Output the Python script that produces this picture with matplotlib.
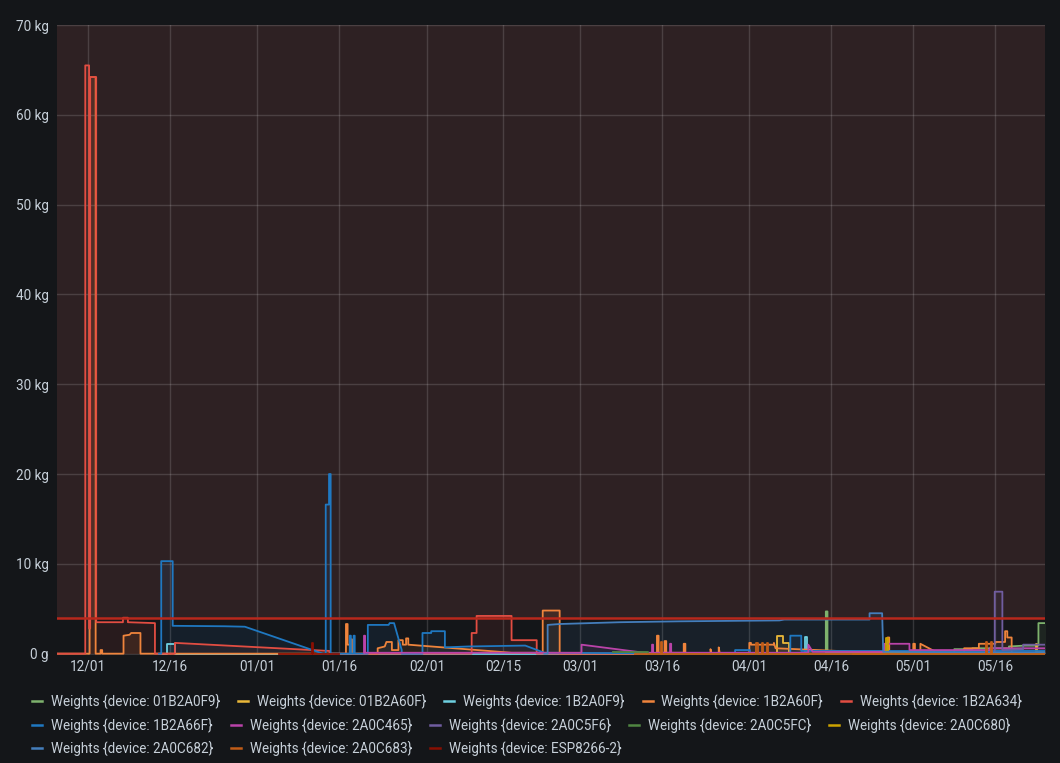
import numpy as np
import pandas as pd
import matplotlib
matplotlib.use("Agg")
import matplotlib.pyplot as plt
import matplotlib.dates as mdates
from matplotlib.lines import Line2D

plt.rcParams['font.family'] = ['Roboto', 'DejaVu Sans']

# ---------------- data (time = days since 2020-12-01, weight in kg) ----------------
start = pd.Timestamp("2020-12-01")

devices = ["01B2A0F9", "01B2A60F", "1B2A0F9", "1B2A60F", "1B2A634", "1B2A66F",
           "2A0C465", "2A0C5F6", "2A0C5FC", "2A0C680", "2A0C682", "2A0C683", "ESP8266-2"]
colors = ["#7EB26D", "#EAB839", "#6ED0E0", "#EF843C", "#E24D42", "#1F78C1",
          "#BA43A9", "#705DA0", "#508642", "#CCA300", "#447EBC", "#C15C17", "#890F02"]

t_01B2A0F9 = [120, 135.0, 135.0, 135.3, 135.3, 150, 158.5, 158.5, 161.8, 161.8, 168.5, 168.5, 171.5, 173.9, 173.9, 176]
w_01B2A0F9 = [0, 0, 4.7, 4.7, 0.1, 0.1, 0.1, 0.5, 0.5, 0.6, 0.6, 0.8, 0.9, 0.9, 3.4, 3.4]

t_01B2A60F = [118, 126.0, 126.0, 127.2, 127.2, 128.2, 128.2, 173.4, 173.4, 173.7, 173.7, 176]
w_01B2A60F = [0, 0, 2.0, 2.0, 1.2, 1.2, 0, 0, 1.1, 1.1, 0.2, 0.2]

t_1B2A0F9 = [13.0, 14.4, 14.4, 15.9, 15.9, 131.2, 131.2, 131.6, 131.6, 176]
w_1B2A0F9 = [0, 0, 1.1, 1.1, 0, 0, 1.8, 1.8, 0, 0]

t_1B2A60F = [-5.7, 0.3, 0.3, 1.4, 1.4, 2.3, 2.3, 2.6, 2.6, 6.5, 6.5, 7.6, 7.9, 9.6, 9.6,
             47.2, 47.2, 47.5, 47.5, 48.0, 48.0, 48.3, 48.3,
             53.0, 53.0, 54.3, 54.6, 55.6, 55.6, 56.8, 56.8, 57.6, 57.6, 58.2, 58.2, 58.6, 58.6, 77.5,
             83.2, 83.2, 86.3, 86.3,
             104.1, 104.1, 104.4, 104.4, 105.5, 105.5, 105.8, 105.8, 109.0, 109.0, 109.3, 109.3,
             113.9, 113.9, 114.1, 115.4, 115.4, 115.6,
             121.0, 121.0, 121.3, 121.3, 125.5, 125.5, 125.8, 144.8,
             146.3, 146.3, 146.6, 146.6, 151.0, 151.0, 151.3, 151.3, 152.3, 152.3, 154.8, 154.8,
             160.3, 160.3, 163.0, 163.0, 166.0, 166.0, 167.8, 167.8, 168.2, 168.2, 169.0, 169.0, 176]
w_1B2A60F = [0, 0, 64.2, 64.2, 0, 0, 0.4, 0.4, 0, 0, 2.0, 2.1, 2.3, 2.3, 0,
             0, 3.3, 3.3, 1.0, 1.0, 1.6, 1.6, 0,
             0, 0.6, 0.8, 1.3, 1.3, 0.4, 0.4, 1.5, 1.5, 1.0, 1.0, 1.7, 1.7, 1.0, 0.1,
             0.1, 4.8, 4.8, 0,
             0, 2.0, 2.0, 0.1, 0.1, 1.4, 1.4, 0.1, 0.1, 1.1, 1.1, 0,
             0, 0.5, 0, 0, 0.7, 0,
             0, 1.2, 1.2, 1.0, 1.0, 1.2, 0.6, 0.1,
             0.1, 1.8, 1.8, 0.1, 0.1, 1.1, 1.1, 0.3, 0.3, 1.1, 0.3, 0.1,
             0.1, 0.6, 0.6, 1.1, 1.1, 1.3, 1.3, 2.5, 2.5, 1.8, 1.8, 0.1, 0.1]

t_1B2A634 = [-5.7, -0.5, -0.5, 0.2, 0.2, 0.4, 0.4, 1.5, 1.5, 6.4, 6.4, 7.3, 7.3, 12.25, 12.25,
             15.9, 15.9, 44.2, 44.2, 70.2, 70.2, 71.1, 71.1, 77.5, 77.5, 82.1, 82.1, 176]
w_1B2A634 = [0, 0, 65.5, 65.5, 2.8, 2.8, 64.2, 64.2, 3.5, 3.5, 4.0, 4.0, 3.5, 3.4, 0,
             0, 1.2, 0.3, 0, 0, 2.3, 2.3, 4.2, 4.2, 1.5, 1.5, 0, 0]

t_1B2A66F = [13.0, 13.4, 13.4, 15.5, 15.5, 25.0, 28.7, 43.0, 43.5, 43.5, 44.1, 44.1, 44.4, 44.4,
             47.9, 47.9, 48.1, 48.1, 48.6, 48.6, 48.8, 48.8,
             51.2, 51.2, 55.0, 55.2, 56.0, 57.4, 57.4, 61.2, 61.2, 62.8, 62.8, 65.3, 65.3,
             69.6, 80.0, 83.5, 118.4, 118.4, 121.1, 121.1,
             128.5, 128.5, 130.5, 130.5, 176]
w_1B2A66F = [0, 0, 10.3, 10.3, 3.1, 3.05, 3.0, 0.0, 0, 16.6, 16.6, 20.0, 20.0, 0,
             0, 2.0, 2.0, 0, 0, 2.0, 2.0, 0,
             0, 3.2, 3.2, 3.4, 3.4, 0.4, 0, 0, 2.3, 2.3, 2.5, 2.5, 0.7,
             0.8, 0.9, 0.1, 0, 0.4, 0.4, 0,
             0, 2.0, 2.0, 0.3, 0.3]

t_2A0C465 = [50.5, 50.5, 50.7, 50.7, 90.3, 90.3, 101.8, 103.2, 103.2, 103.4, 103.4,
             106.5, 106.5, 106.7, 106.7, 131.8, 131.8, 132.6, 145.7, 145.7, 150.3, 150.3,
             165.0, 165.0, 176]
w_2A0C465 = [0.1, 2.0, 2.0, 0.1, 0.1, 1.0, 0.1, 0.1, 1.0, 1.0, 0.1,
             0.1, 1.1, 1.1, 0.1, 0.1, 1.0, 0.2, 0.2, 1.1, 1.1, 0.4,
             0.4, 0.6, 0.6]

t_2A0C5F6 = [160, 165.9, 165.9, 167.3, 167.3, 171.1, 171.1, 176]
w_2A0C5F6 = [0, 0, 6.9, 6.9, 0.4, 0.5, 1.0, 1.0]

t_2A0C5FC = [96.0, 102.5, 102.5, 176]
w_2A0C5FC = [0.15, 0.15, 0.0, 0.0]

t_2A0C680 = [140, 146.0, 146.0, 146.3, 146.3, 176]
w_2A0C680 = [0, 0, 1.7, 1.7, 0.1, 0.1]

t_2A0C682 = [83.5, 84.1, 84.1, 86.3, 91.8, 97.3, 108.2, 126.5, 127.4, 143.0, 143.0, 145.3, 145.5, 176]
w_2A0C682 = [0, 0, 3.2, 3.3, 3.4, 3.5, 3.6, 3.7, 3.8, 3.8, 4.5, 4.5, 0.2, 0.1]

t_2A0C683 = [100, 104.8, 104.8, 105.0, 105.0, 122.3, 122.3, 122.5, 122.5, 123.3, 123.3, 123.5, 123.5,
             124.2, 124.2, 124.4, 124.4, 164.3, 164.3, 164.5, 164.5, 165.2, 165.2, 165.4, 165.4, 176]
w_2A0C683 = [0, 0, 1.3, 1.3, 0, 0, 1.2, 1.2, 0, 0, 1.2, 1.2, 0,
             0, 1.2, 1.2, 0, 0, 1.3, 1.3, 0, 0, 1.3, 1.3, 0, 0]

t_ESP8266_2 = [35, 41.0, 41.0, 41.2, 41.2, 46]
w_ESP8266_2 = [0, 0, 1.2, 1.2, 0, 0]

series_t = [t_01B2A0F9, t_01B2A60F, t_1B2A0F9, t_1B2A60F, t_1B2A634, t_1B2A66F,
            t_2A0C465, t_2A0C5F6, t_2A0C5FC, t_2A0C680, t_2A0C682, t_2A0C683, t_ESP8266_2]
series_w = [w_01B2A0F9, w_01B2A60F, w_1B2A0F9, w_1B2A60F, w_1B2A634, w_1B2A66F,
            w_2A0C465, w_2A0C5F6, w_2A0C5FC, w_2A0C680, w_2A0C682, w_2A0C683, w_ESP8266_2]

threshold = 4.0
y_ticks = [0, 10, 20, 30, 40, 50, 60, 70]
y_tick_labels = ["0 g", "10 kg", "20 kg", "30 kg", "40 kg", "50 kg", "60 kg", "70 kg"]
x_tick_dates = ["2020-12-01", "2020-12-16", "2021-01-01", "2021-01-16", "2021-02-01", "2021-02-15",
                "2021-03-01", "2021-03-16", "2021-04-01", "2021-04-16", "2021-05-01", "2021-05-16"]
x_range_days = [-5.67, 175.1]

# ---------------- figure ----------------
W, H = 1060, 763
BG = "#141619"
TXT = "#c7d0d9"
fig = plt.figure(figsize=(W / 100, H / 100), dpi=100, facecolor=BG)
renderer = fig.canvas.get_renderer()

# font size chosen so a legend label is ~169 px wide, as in the reference
_probe = fig.text(0, 0, "Weights {device: 01B2A0F9}", fontsize=10)
FS = 10 * 169 / _probe.get_window_extent(renderer).width
_probe.remove()

ax = fig.add_axes([57 / W, 1 - 655 / H, (1045 - 57) / W, (655 - 25) / H])
ax.set_facecolor(BG)


def to_dates(days):
    return start + pd.to_timedelta(np.asarray(days, dtype=float), unit="D")


ax.axhspan(threshold, 70, color="#2e2123", zorder=0, lw=0)

for t, w, c in zip(series_t, series_w, colors):
    d = to_dates(t)
    ax.fill_between(d, w, 0, color=c, alpha=0.10, lw=0, zorder=1)
    ax.plot(d, w, color=c, lw=1.3, zorder=3)

ax.axhline(threshold, color="#b8281c", lw=1.8, zorder=4)

ax.set_ylim(-0.15, 70)
ax.set_xlim(to_dates(x_range_days))
ax.set_yticks(y_ticks)
ax.set_yticklabels(y_tick_labels)
xt = pd.to_datetime(x_tick_dates)
ax.set_xticks(xt)
ax.xaxis.set_major_formatter(mdates.DateFormatter("%m/%d"))
ax.tick_params(axis="both", length=0, colors=TXT, labelsize=FS)
ax.tick_params(axis="y", pad=6)
ax.tick_params(axis="x", pad=3)
ax.grid(True, color="#ffffff", alpha=0.14, lw=1, zorder=2)
ax.set_axisbelow(False)
for s in ax.spines.values():
    s.set_visible(False)

# ---------------- legend (flow layout) ----------------
rows_y = [701, 725, 748]
x = 32
row = 0
for name, c in zip(devices, colors):
    label = "Weights {device: %s}" % name
    txt = fig.text(0, 0, label, color=TXT, fontsize=FS, va="center", ha="left")
    tw = txt.get_window_extent(renderer).width
    item_w = 10 + 9 + tw
    if x + item_w > 1045:
        row += 1
        x = 32
    yy = 1 - rows_y[row] / H
    fig.add_artist(Line2D([x / W, (x + 10) / W], [yy, yy], color=c, lw=1.8, transform=fig.transFigure))
    txt.set_position(((x + 19) / W, yy))
    x += item_w + 18

fig.savefig("out.png", dpi=100, facecolor=BG)
